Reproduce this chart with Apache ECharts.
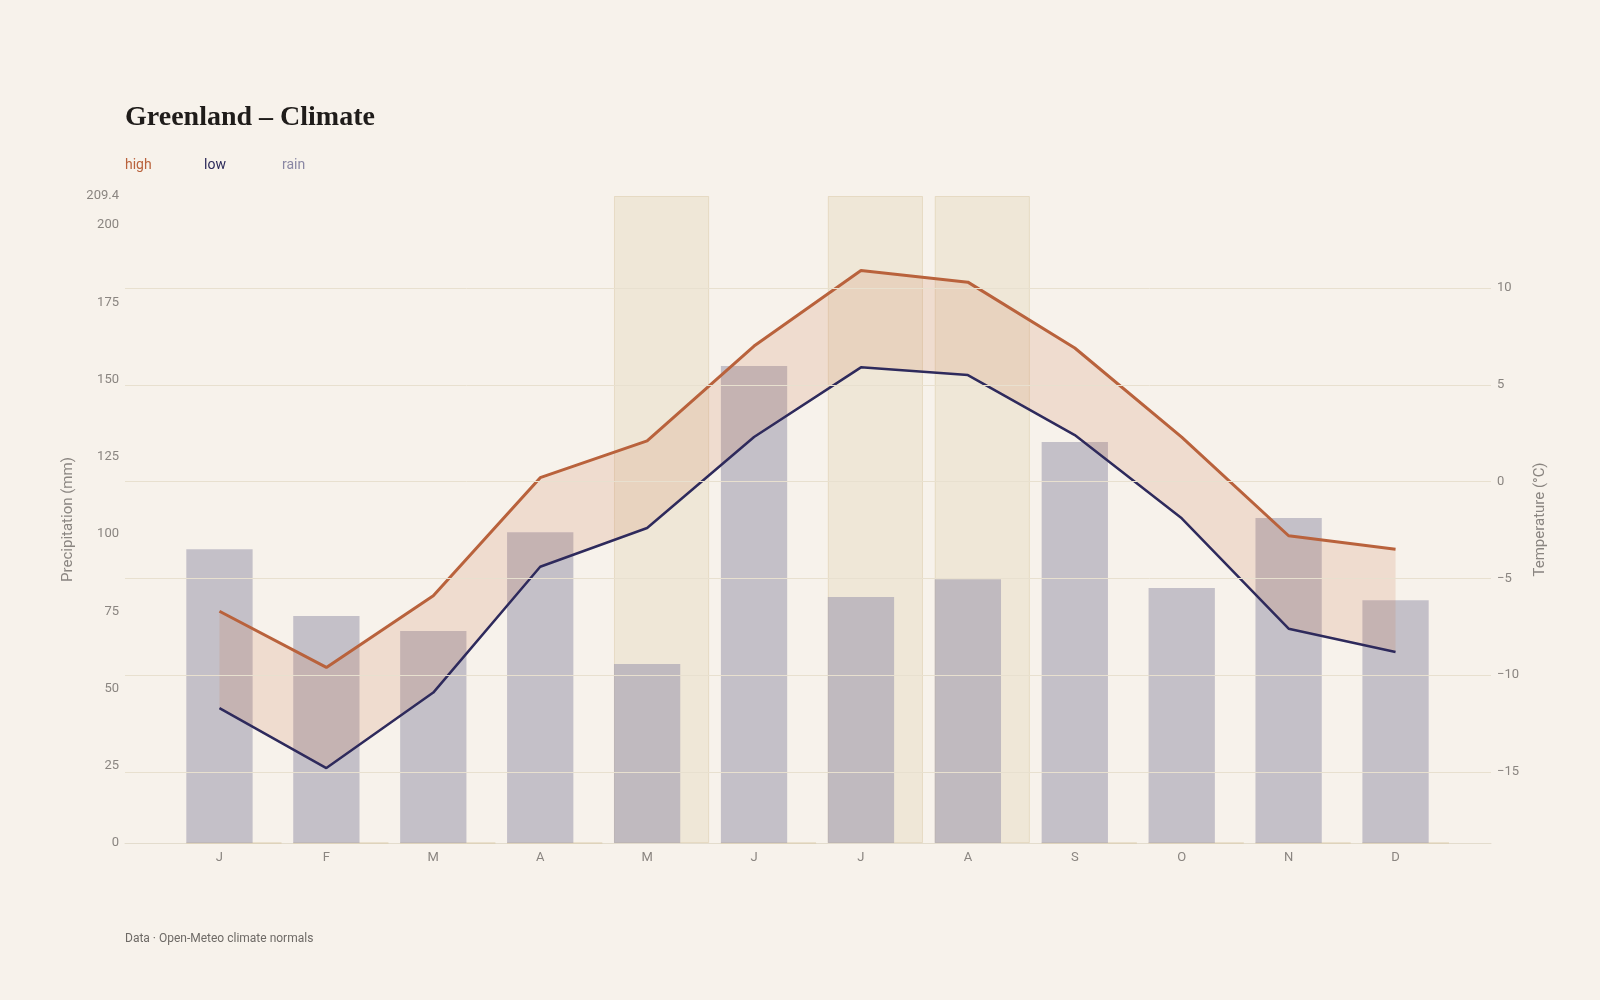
<!DOCTYPE html>
<html><head><meta charset="utf-8">
<script src="https://cdn.jsdelivr.net/npm/echarts@6/dist/echarts.min.js"></script>
<style>html,body{margin:0;background:#f7f2eb}#c{width:1600px;height:1000px}</style>
</head><body><div id="c"></div>
<script>
const months = ['J','F','M','A','M','J','J','A','S','O','N','D'];
const high = [-6.7,-9.6,-5.9,0.2,2.1,7.0,10.9,10.3,6.9,2.3,-2.8,-3.5];
const low = [-11.7,-14.8,-10.9,-4.4,-2.4,2.3,5.9,5.5,2.4,-1.9,-7.6,-8.8];
const rain = [95.1,73.5,68.6,100.6,57.9,154.4,79.6,85.4,129.8,82.5,105.2,78.6];
const highlight = [0,0,0,0,1,0,1,1,0,0,0,0];
const tempTicks = [-15,-10,-5,0,5,10];

const RMAX = 209.4, TMIN = -18.67, TMAX = 14.75;
const chart = echarts.init(document.getElementById('c'));
const lab = { color:'#8a8580', fontSize:13, fontFamily:'Roboto' };

chart.setOption({
  backgroundColor:'#f7f2eb',
  animation:false,
  graphic:[
    {type:'text', left:125, top:104, style:{text:'Greenland – Climate', font:'bold 28px "Liberation Serif"', fill:'#1f1c1a'}},
    {type:'text', left:125, top:158, style:{text:'high', font:'14px Roboto', fill:'#b9623c'}},
    {type:'text', left:204, top:158, style:{text:'low', font:'14px Roboto', fill:'#2c2a5a'}},
    {type:'text', left:282, top:158, style:{text:'rain', font:'14px Roboto', fill:'#8a87a3'}},
    {type:'text', left:125, top:933, style:{text:'Data · Open-Meteo climate normals', font:'12px Roboto', fill:'#6e6a66'}}
  ],
  grid:[
    {left:125, right:109, top:196, bottom:157},
    {left:166, right:151, top:196, bottom:157}
  ],
  xAxis:[
    {gridIndex:0, type:'value', min:0, max:1, axisLabel:{show:false}, axisTick:{show:false}, splitLine:{show:false},
     axisLine:{show:true, lineStyle:{color:'#e3dccd'}}},
    {gridIndex:1, type:'category', data:months, axisLine:{show:false}, axisTick:{show:false},
     axisLabel:Object.assign({margin:8, fontSize:14}, lab)}
  ],
  yAxis:[
    {gridIndex:0, type:'value', min:0, max:RMAX, interval:25, position:'left',
     name:'Precipitation (mm)', nameLocation:'middle', nameGap:42, nameTextStyle:{color:'#8a8580', fontSize:15, fontFamily:'Roboto'},
     axisLabel:Object.assign({margin:6}, lab), splitLine:{show:false}, axisLine:{show:false}, axisTick:{show:false}},
    {gridIndex:0, type:'value', min:TMIN, max:TMAX, position:'right',
     name:'Temperature (°C)', nameLocation:'middle', nameGap:42, nameRotate:90, nameTextStyle:{color:'#8a8580', fontSize:15, fontFamily:'Roboto'},
     axisLabel:Object.assign({margin:6, customValues:tempTicks, formatter:v=>String(v).replace('-','−')}, lab),
     axisTick:{show:false}, splitLine:{show:false}, axisLine:{show:false}},
    {gridIndex:1, type:'value', min:0, max:RMAX, show:false},
    {gridIndex:1, type:'value', min:TMIN, max:TMAX, show:false},
    {gridIndex:1, type:'value', min:0, max:1, show:false}
  ],
  series:[
    {type:'line', xAxisIndex:0, yAxisIndex:1, data:[], silent:true,
     markLine:{symbol:'none', silent:true, label:{show:false}, lineStyle:{color:'#e8e0cf', width:1, type:'solid'},
       data:tempTicks.map(v=>({yAxis:v}))}},
    {type:'bar', xAxisIndex:1, yAxisIndex:4, data:highlight, barWidth:'89%', z:1,
     itemStyle:{color:'rgba(228,214,186,0.4)', borderColor:'rgba(215,198,160,0.45)', borderWidth:1}},
    {type:'bar', xAxisIndex:1, yAxisIndex:2, data:rain, barWidth:'62%', barGap:'-100%', z:2,
     itemStyle:{color:'rgba(150,145,168,0.52)'}},
    {type:'line', xAxisIndex:1, yAxisIndex:3, data:low, stack:'t', stackStrategy:'all', symbol:'none', z:3,
     lineStyle:{opacity:0}},
    {type:'line', xAxisIndex:1, yAxisIndex:3, data:high.map((h,i)=>+(h-low[i]).toFixed(2)), stack:'t', stackStrategy:'all',
     symbol:'none', z:3, lineStyle:{opacity:0}, areaStyle:{color:'rgba(205,120,80,0.25)'}},
    {type:'line', xAxisIndex:1, yAxisIndex:3, data:high, symbol:'none', z:4, lineStyle:{color:'#b9623c', width:3}},
    {type:'line', xAxisIndex:1, yAxisIndex:3, data:low, symbol:'none', z:4, lineStyle:{color:'#2e2a5c', width:2.5}}
  ]
});
</script></body></html>
